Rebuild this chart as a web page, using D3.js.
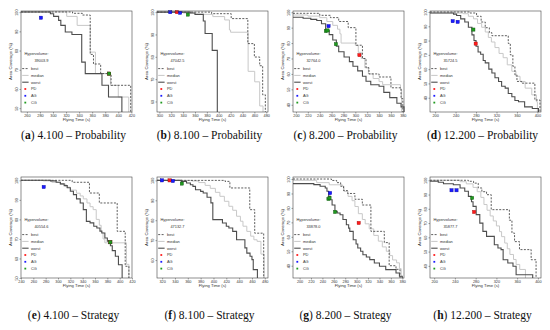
<!DOCTYPE html>
<html>
<head>
<meta charset="utf-8">
<script src="https://cdn.jsdelivr.net/npm/d3@7"></script>
<style>
  body { margin: 0; background: #fff; }
</style>
</head>
<body>
<script>
// ---- data --------------------------------------------------------------
const letters = ["a", "b", "c", "d", "e", "f", "g", "h"];
const captions = ["4.100 – Probability", "8.100 – Probability", "8.200 – Probability", "12.200 – Probability",
                  "4.100 – Strategy", "8.100 – Strategy", "8.200 – Strategy", "12.200 – Strategy"];
const hypervolumes = ["39003.9", "47042.5", "32764.0", "35724.5", "40554.6", "47132.7", "33878.0", "35877.7"];

const xDomains = [[251, 421], [296, 483], [195, 382], [190, 407], [240, 420], [312, 485], [188.5, 383], [192, 406]];
const yDomains = [[48, 100.6], [55.3, 100.5], [35.3, 100.8], [30, 100.7], [50, 101.7], [51, 101.7], [31.5, 101.4], [31.5, 102.3]];

const xTicks = [
  [260, 280, 300, 320, 340, 360, 380, 400, 420],
  [300, 320, 340, 360, 380, 400, 420, 440, 460, 480],
  [200, 220, 240, 260, 280, 300, 320, 340, 360, 380],
  [200, 240, 280, 320, 360, 400],
  [240, 260, 280, 300, 320, 340, 360, 380, 400, 420],
  [320, 340, 360, 380, 400, 420, 440, 460, 480],
  [200, 220, 240, 260, 280, 300, 320, 340, 360, 380],
  [200, 240, 280, 320, 360, 400]
];
const yTicks = [
  [50, 60, 70, 80, 90, 100],
  [60, 70, 80, 90, 100],
  [40, 50, 60, 70, 80, 90, 100],
  [40, 50, 60, 70, 80, 90, 100],
  [50, 60, 70, 80, 90, 100],
  [60, 70, 80, 90, 100],
  [40, 50, 60, 70, 80, 90, 100],
  [40, 50, 60, 70, 80, 90, 100]
];

// step curves: [flying time, area coverage]
const bestA   = [[251,100.1],[330,99.4],[345,98.5],[357,78],[362,73],[373,68],[389,61.9],[419,48]];
const medianA = [[251,100.1],[321,97.8],[337,93.1],[357,79.2],[365,68],[388,61.9],[400,55.8],[416,48]];
const worstA  = [[251,100.1],[296,99.2],[301,97.8],[308.6,95.7],[312,93.1],[318.8,89.7],[329,88.4],[344,74],[349.4,68],[375,61.9],[385,55.8],[405.5,48]];

const bestB   = [[296,100],[388,99.3],[421,97.1],[449,85.9],[460,79.9],[469,76],[474,63],[478.5,55.3]];
const medianB = [[296,100],[340,99.6],[360,99],[390,98],[410,96.5],[418,92],[420,91],[449.5,73.5],[460.6,68.8],[469,58],[474.6,55.3]];
const worstB  = [[296,100],[352,99.6],[360,99],[374,96],[377,90.4],[389,82.9],[397.6,55.3]];

const bestC   = [[195,99.3],[240,98],[258,96.5],[272,94],[288,90],[301,78.6],[312,70],[318,64],[323,60],[340,58],[360,51],[377,44],[380,35.3]];
const medianC = [[195,98.2],[220,97.5],[240,96.5],[252,94],[262,91.5],[270,89],[274,86],[276,80],[300,78.5],[305,74],[310,70],[316,64],[322,60],[330,57],[340,55],[346,53],[376,50],[378,35.3]];
const worstC  = [[195,96.7],[212,96.1],[225,95.4],[235,94.6],[243,92.5],[250,88.2],[256,85.5],[262,82],[268,78],[272,74.4],[281,71],[290,68],[296,65],[304,62],[312,58.5],[318,55.2],[326,53],[340,52],[348,48],[358,44.6],[370,41],[377,38.6],[382,35.3]];

const bestD   = [[190,100],[268,99.3],[281,97],[290,93],[298,89],[306,85.5],[311,83.4],[343,78],[347,70],[352,62],[356,56],[360,51.4],[369,50.2],[395,38.4],[405,30]];
const medianD = [[190,99.3],[255,98.8],[265,97],[275,95.2],[283,92],[291,89.3],[298,86],[304,82.2],[310,79],[317,75.1],[325,71],[333,68],[341,63],[350,58.5],[358,55],[366,51.4],[376,46.7],[389,42],[398,37.2],[400,30]];
const worstD  = [[190,99.3],[236,98.5],[242,97.6],[250,95.2],[258,93],[265,89.3],[272,84],[276,80],[280,76],[284,72],[289,70.4],[294,66],[298,64.4],[305,60],[311,57.3],[317,54],[324,51.4],[330,48],[337,46.7],[343,43],[350,40.7],[356,38],[363,37.2],[375,33.6],[390,32.4],[402,30]];

const bestE   = [[240,100],[323,99],[351,93.5],[367,88.4],[396,73.9],[409,56],[415,50]];
const medianE = [[240,100],[276,99.7],[290,99],[303,98],[313,96.5],[320,95],[330,93.4],[336,92],[341,90.5],[347,88.4],[352,86.5],[357,85],[362,80],[367,77],[370,73.5],[373,70],[376,68],[411,57],[415,50]];
const worstE  = [[240,100],[288,99.7],[297,99],[304,98.2],[310,97.3],[315,96.2],[320,94.4],[325,92.7],[330,90.5],[336,88.4],[341,85],[346,79],[352,78.2],[358,76.5],[363,75.6],[368,74],[371,73],[376,70.5],[380,68.8],[385,66.5],[388,64],[393,61.1],[398,56.8],[404,50]];

const bestF   = [[312,100],[418,99.5],[425.6,96.2],[456.6,85.3],[464.3,73.5],[478.3,51]];
const medianF = [[312,100],[366,99.7],[377,98.9],[387,97.5],[395,96],[403,94],[410,92],[417,89.5],[424,87],[430,85],[436,82],[442,79.5],[446,77],[452,74.4],[458,72],[463,70.2],[468,69.4],[474,63],[479,51]];
const worstF  = [[312,100],[350,99.5],[358,98.7],[364,97.8],[368,97],[372,95.3],[380,94.5],[384,93.7],[390,91.5],[396,88.7],[399,80.3],[414,78.6],[420,77],[424,76.1],[430,74.4],[436,70.2],[449,66.1],[452,63.5],[457,61.9],[460,60.2],[462,55.2],[468.5,51]];

const bestG   = [[188.5,100],[256,99],[265,97.5],[272,95],[277,92],[284,90],[297,86],[310,82],[325,63.8],[348.5,56],[357,40],[369,37.5],[376,31.5]];
const medianG = [[188.5,99.1],[230,97.5],[252,96],[275,95],[278,91.5],[285,88],[292,85],[297,81],[303,76],[310,72],[315,69],[322,65.5],[330,61],[338,57],[345,53],[352,50],[358,47],[363,44],[370,42],[375,38],[378,31.5]];
const worstG  = [[188.5,96.8],[225,96.1],[236,95],[245,93.8],[248,91.5],[251,88],[254,85.7],[257,82],[262,77.6],[266,76.5],[271,75.3],[276,72],[282,68.4],[286,66],[288,63.8],[294,58],[299,55],[302,52.3],[307,50],[311,47.6],[317,46],[323,44.2],[331,41.9],[340,39.6],[351,37.3],[369,35],[375,32.7],[380,31.5]];

const bestH   = [[192,100],[266,99.3],[276,98],[285,94.6],[292,92],[301,89.9],[310,79.4],[345,72],[350,63],[355,57],[364.5,51.4],[387,44.3],[396.5,31.5]];
const medianH = [[192,100],[250,99],[262,97.5],[275,95],[283,92],[290,88],[296,83],[302,79],[308,75],[314,71.5],[320,68],[326,64],[330,60.5],[336,56],[341,52],[346,48],[353,44.5],[358,41],[365,37.5],[376,31.5]];
const worstH  = [[192,99.3],[208,98.6],[218,97.6],[237,96.9],[250,94.6],[259,92.3],[266,88.7],[272,85],[275,81.7],[281,75.9],[288,70],[294,64.2],[301,60.7],[316,54.8],[323,52.5],[329,51.4],[333,44.3],[342,42],[352,39.7],[358,33.8],[390,31.5]];

// solutions of the three planners: [method, flying time, coverage]
const pointsA = [["AG",281.5,97.1],["PD",386,68],["CG",386,68]];
const pointsB = [["AG",318.3,100],["PD",329.5,100],["AG",335,99.7],["CG",348,98.9]];
const pointsC = [["AG",254.9,91],["CG",250.4,87.8],["CG",253.2,88.2],["CG",267.3,79.3],["PD",306.9,72.2]];
const pointsD = [["AG",234.3,93.6],["AG",244,93.1],["CG",274.8,87.7],["PD",279.3,77.9]];
const pointsE = [["AG",276.8,96.6],["PD",384.9,68.3],["CG",384.9,68.3]];
const pointsF = [["AG",319.7,100],["PD",331.6,100],["AG",336.8,99.7],["CG",350.7,98.4]];
const pointsG = [["AG",253.5,90.3],["CG",250.6,86.2],["CG",252.5,86.8],["CG",262.2,77.2],["PD",303.6,69.6]];
const pointsH = [["AG",233.5,93],["AG",243.1,93],["CG",273.2,87.6],["PD",277,77.8]];

const bests   = [bestA, bestB, bestC, bestD, bestE, bestF, bestG, bestH];
const medians = [medianA, medianB, medianC, medianD, medianE, medianF, medianG, medianH];
const worsts  = [worstA, worstB, worstC, worstD, worstE, worstF, worstG, worstH];
const points  = [pointsA, pointsB, pointsC, pointsD, pointsE, pointsF, pointsG, pointsH];

const legendKeys = ["best", "median", "worst", "PD", "AG", "CG"];
const pointFill = {PD: "#ff1a1a", AG: "#1a1aff", CG: "#1f9a1f"};
const pointStroke = {PD: "#a00000", AG: "#0000a0", CG: "#0b4d0b"};

// ---- layout --------------------------------------------------------------
const colLeft = [21, 157, 293, 430],
      rowTop = [11, 177],
      W = 111, H = 101,
      captionY = [138.5, 318.5];

const sans = '"Liberation Sans", Arial, sans-serif',
      serif = '"Liberation Serif", "Times New Roman", serif';

const lineStyle = {
  best:   {stroke: "#333", width: 0.8, dash: "2,1.4"},
  median: {stroke: "#c8c8c8", width: 1, dash: null},
  worst:  {stroke: "#4d4d4d", width: 1.1, dash: null}
};

const svg = d3.select("body").append("svg")
    .attr("width", 550)
    .attr("height", 330)
    .style("font-family", sans);

letters.forEach((letter, i) => {
  const col = i % 4, row = Math.floor(i / 4);
  const x0 = colLeft[col], y0 = rowTop[row];

  const x = d3.scaleLinear().domain(xDomains[i]).range([x0, x0 + W]);
  const y = d3.scaleLinear().domain(yDomains[i]).range([y0 + H, y0]);

  const g = svg.append("g");

  const line = d3.line()
      .curve(d3.curveStepAfter)
      .x(d => x(d[0]))
      .y(d => y(d[1]));

  [["median", medians[i]], ["best", bests[i]], ["worst", worsts[i]]].forEach(([key, data]) => {
    const s = lineStyle[key];
    g.append("path")
      .datum(data)
      .attr("d", line)
      .attr("fill", "none")
      .attr("stroke", s.stroke)
      .attr("stroke-width", s.width)
      .attr("stroke-dasharray", s.dash);
  });

  // points
  g.selectAll("rect.pt")
      .data(points[i])
    .enter().append("rect")
      .attr("class", "pt")
      .attr("x", d => x(d[1]) - 1.6)
      .attr("y", d => y(d[2]) - 1.6)
      .attr("width", 3.2)
      .attr("height", 3.2)
      .attr("fill", d => pointFill[d[0]])
      .attr("stroke", d => pointStroke[d[0]])
      .attr("stroke-width", 0.4);

  // box
  g.append("rect")
    .attr("x", x0).attr("y", y0)
    .attr("width", W).attr("height", H)
    .attr("fill", "none")
    .attr("stroke", "#444")
    .attr("stroke-width", 0.6);

  // axes
  const xAxis = d3.axisBottom(x).tickValues(xTicks[i]).tickSize(1.5).tickPadding(0.4);
  const gx = g.append("g")
      .attr("transform", `translate(0,${y0 + H})`)
      .call(xAxis);

  const yAxis = d3.axisLeft(y).tickValues(yTicks[i]).tickSize(1.5);
  const gy = g.append("g")
      .attr("transform", `translate(${x0},0)`)
      .call(yAxis);

  [gx, gy].forEach(a => {
    a.attr("font-family", null).attr("font-size", null);
    a.select(".domain").remove();
    a.selectAll("line").attr("stroke", "#444").attr("stroke-width", 0.5);
    a.selectAll("text")
      .style("font-size", "3.8px")
      .style("font-family", sans)
      .attr("fill", "#333");
  });

  gy.selectAll("text")
    .attr("transform", "rotate(-90)")
    .attr("x", 0)
    .attr("y", -2.6)
    .attr("dy", 0)
    .attr("text-anchor", "middle");

  g.append("text")
    .attr("x", x0 + W / 2)
    .attr("y", y0 + H + 9.2)
    .attr("text-anchor", "middle")
    .style("font-size", "4.2px")
    .attr("fill", "#333")
    .text("Flying Time (s)");

  g.append("text")
    .attr("transform", `translate(${x0 - 9.5},${y0 + H / 2}) rotate(-90)`)
    .attr("text-anchor", "middle")
    .style("font-size", "4.3px")
    .attr("fill", "#333")
    .text("Area Coverage (%)");

  // legend
  const lx = x0, ly = y0;
  g.append("text")
    .attr("x", lx + 27.5).attr("y", ly + 44)
    .attr("text-anchor", "end")
    .style("font-size", "3.9px").attr("fill", "#333")
    .text("Hypervolume:");
  g.append("text")
    .attr("x", lx + 27.5).attr("y", ly + 50.6)
    .attr("text-anchor", "end")
    .style("font-size", "3.9px").attr("fill", "#333")
    .text(hypervolumes[i]);

  legendKeys.forEach((k, j) => {
    const yy = ly + 57.6 + j * 6.8;
    if (lineStyle[k]) {
      const s = lineStyle[k];
      g.append("line")
        .attr("x1", lx + 1.2).attr("x2", lx + 7.6)
        .attr("y1", yy).attr("y2", yy)
        .attr("stroke", s.stroke)
        .attr("stroke-width", s.width)
        .attr("stroke-dasharray", s.dash);
    } else {
      g.append("rect")
        .attr("x", lx + 3.4).attr("y", yy - 0.9)
        .attr("width", 1.8).attr("height", 1.8)
        .attr("fill", pointFill[k]);
    }
    g.append("text")
      .attr("x", lx + 10).attr("y", yy + 1.3)
      .style("font-size", "3.9px").attr("fill", "#333")
      .text(k);
  });

  // caption
  const cap = svg.append("text")
    .attr("x", x0 + W / 2 - 3)
    .attr("y", captionY[row])
    .attr("text-anchor", "middle")
    .style("font-family", serif)
    .style("font-size", "11.5px")
    .attr("fill", "#111");
  cap.append("tspan").text("(");
  cap.append("tspan").attr("font-weight", "bold").text(letter);
  cap.append("tspan").text(") " + captions[i]);
});
</script>
</body>
</html>
